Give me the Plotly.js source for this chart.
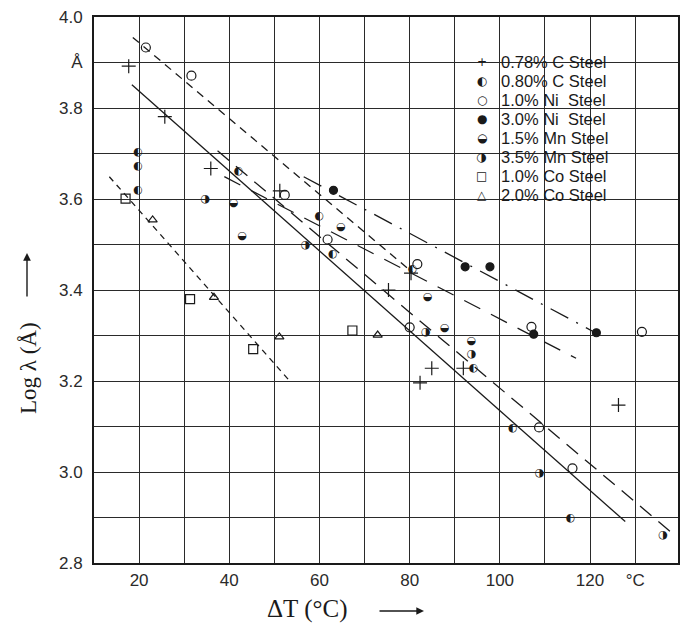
<!DOCTYPE html>
<html>
<head>
<meta charset="utf-8">
<script src="https://cdn.plot.ly/plotly-3.0.1.min.js"></script>
<style>
  html, body { margin: 0; padding: 0; background: #fff; }
  #chart { width: 694px; height: 628px; }
</style>
</head>
<body>
<div id="chart"></div>
<script>
// Pearlite interlamellar spacing (log λ, Å) against undercooling ΔT for several steels

// --- measured points, one pair of arrays per steel ---
const c078X = [17.7, 25.7, 35.9, 51.2, 75.3, 80.3, 82.3, 84.9, 91.9, 126.3];
const c078Y = [3.892, 3.781, 3.667, 3.618, 3.400, 3.437, 3.196, 3.228, 3.228, 3.147];

const c080X = [19.7, 19.7, 19.7, 42.0, 59.9, 62.9, 80.6, 94.1, 102.8, 115.6];
const c080Y = [3.703, 3.673, 3.620, 3.660, 3.563, 3.479, 3.446, 3.229, 3.096, 2.898];

const ni10X = [21.5, 31.6, 52.3, 61.8, 81.7, 80.0, 107.0, 108.7, 116.1, 131.5];
const ni10Y = [3.933, 3.871, 3.609, 3.511, 3.457, 3.318, 3.319, 3.098, 3.008, 3.308];

const ni30X = [63.1, 92.3, 97.8, 107.5, 121.4];
const ni30Y = [3.619, 3.451, 3.451, 3.303, 3.306];

const mn15X = [41.0, 42.9, 64.8, 84.0, 87.8, 93.7];
const mn15Y = [3.590, 3.519, 3.538, 3.385, 3.316, 3.288];

const mn35X = [34.7, 56.9, 83.6, 93.7, 108.8, 136.2];
const mn35Y = [3.599, 3.499, 3.308, 3.258, 2.998, 2.860];

const co10X = [17.0, 31.3, 45.3, 67.3];
const co10Y = [3.601, 3.380, 3.270, 3.311];

const co20X = [23.0, 36.6, 51.1, 72.9];
const co20Y = [3.554, 3.384, 3.297, 3.301];

// --- fitted trend lines (end points) ---
const fitSolidX = [18.4, 127.8];
const fitSolidY = [3.851, 2.891];
const fitNiX = [18.6, 80.6];
const fitNiY = [3.955, 3.439];
const fitLongX = [37.4, 138.3];
const fitLongY = [3.706, 2.865];
const fitDashDotX = [56.5, 121.4];
const fitDashDotY = [3.649, 3.305];
const fitMnX = [38.9, 116.9];
const fitMnY = [3.649, 3.250];
const fitCoX = [13.4, 53.4];
const fitCoY = [3.649, 3.200];

// --- legend rows ---
const legendNames = ['0.78% C Steel', '0.80% C Steel', '1.0% Ni  Steel', '3.0% Ni  Steel',
                     '1.5% Mn Steel', '3.5% Mn Steel', '1.0% Co Steel', '2.0% Co Steel'];
const legendGlyphs = ['+', '◐', '○', '●', '◒', '◑', '□', '△'];

// --- axis ticks ---
const xTickVals = [20, 30, 40, 50, 60, 70, 80, 90, 100, 110, 120, 130, 140];
const xTickText = ['20', '', '40', '', '60', '', '80', '', '100', '', '120', '°C', '140'];
const yTickVals = [2.8, 2.9, 3.0, 3.1, 3.2, 3.3, 3.4, 3.5, 3.6, 3.7, 3.8, 3.9, 4.0];
const yTickText = ['2.8', '', '3.0', '', '3.2', '', '3.4', '', '3.6', '', '3.8', 'Å', '4.0'];

const ink = '#1a1a1a';

function fitLine(x, y, dash) {
  return { x: x, y: y, type: 'scatter', mode: 'lines', hoverinfo: 'skip',
           line: { color: ink, width: 1.3, dash: dash } };
}
function symbolTrace(x, y, symbol, size) {
  return { x: x, y: y, type: 'scatter', mode: 'markers', cliponaxis: false,
           marker: { symbol: symbol, size: size, color: ink, line: { color: ink, width: 1.2 } } };
}
// half-filled circles are drawn as geometric-shape characters
function glyphTrace(x, y, glyph) {
  return { x: x, y: y, type: 'scatter', mode: 'text', text: x.map(() => glyph),
           textposition: 'middle center',
           textfont: { family: 'DejaVu Sans', size: 11, color: ink } };
}

const traces = [
  fitLine(fitSolidX, fitSolidY, 'solid'),
  fitLine(fitNiX, fitNiY, '8px,6px'),
  fitLine(fitLongX, fitLongY, '15px,9px'),
  fitLine(fitDashDotX, fitDashDotY, '20px,9px,2px,9px'),
  fitLine(fitMnX, fitMnY, '18px,12px'),
  fitLine(fitCoX, fitCoY, '6px,5px'),
  symbolTrace(c078X, c078Y, 'cross-thin-open', 10),
  glyphTrace(c080X, c080Y, '◐'),
  symbolTrace(ni10X, ni10Y, 'circle-open', 9),
  symbolTrace(ni30X, ni30Y, 'circle', 8),
  glyphTrace(mn15X, mn15Y, '◒'),
  glyphTrace(mn35X, mn35Y, '◑'),
  symbolTrace(co10X, co10Y, 'square-open', 9),
  symbolTrace(co20X, co20Y, 'triangle-up-open', 8)
];

// plot area in pixels: left 94, right 678, top 17, bottom 563
const legendTopPx = 61.5;
const legendRowPx = 19.1;
const toPaperY = py => (563 - py) / 546;
const toPaperX = px => (px - 94) / 584;

const annotations = [];
legendNames.forEach((name, i) => {
  const py = legendTopPx + i * legendRowPx;
  annotations.push({ xref: 'paper', yref: 'paper', x: toPaperX(481.7), y: toPaperY(py),
    text: legendGlyphs[i], showarrow: false, xanchor: 'center', yanchor: 'middle',
    font: { family: 'DejaVu Sans', size: 12, color: ink } });
  annotations.push({ xref: 'paper', yref: 'paper', x: toPaperX(499), y: toPaperY(py),
    text: name.replace(/  /g, '&nbsp; '), showarrow: false, xanchor: 'left', yanchor: 'middle',
    font: { family: 'Liberation Sans', size: 16.5, color: ink } });
});

// axis captions with their arrows
annotations.push({ xref: 'paper', yref: 'paper', x: toPaperX(307), y: toPaperY(609),
  text: 'ΔT (°C)', showarrow: false, xanchor: 'center', yanchor: 'middle',
  font: { family: 'Liberation Serif', size: 25, color: ink } });
annotations.push({ xref: 'paper', yref: 'paper', x: toPaperX(424), y: toPaperY(611),
  ax: -46, ay: 0, text: '', showarrow: true, arrowhead: 2, arrowsize: 1.1, arrowwidth: 1.4,
  arrowcolor: ink });
annotations.push({ xref: 'paper', yref: 'paper', x: toPaperX(29), y: toPaperY(368),
  text: 'Log λ (Å)', textangle: -90, showarrow: false, xanchor: 'center', yanchor: 'middle',
  font: { family: 'Liberation Serif', size: 23, color: ink } });
annotations.push({ xref: 'paper', yref: 'paper', x: toPaperX(27), y: toPaperY(253),
  ax: 0, ay: 45, text: '', showarrow: true, arrowhead: 2, arrowsize: 1.1, arrowwidth: 1.4,
  arrowcolor: ink });

const axisCommon = {
  showline: true, mirror: true, linecolor: ink, linewidth: 2,
  showgrid: true, gridcolor: '#2a2a2a', gridwidth: 1,
  zeroline: false, ticks: '', fixedrange: true,
  tickfont: { family: 'Liberation Sans', size: 17, color: '#2a2a2a' }
};

const layout = {
  width: 694, height: 628,
  margin: { l: 94, r: 16, t: 17, b: 65 },
  paper_bgcolor: '#ffffff', plot_bgcolor: '#ffffff',
  showlegend: false,
  xaxis: Object.assign({}, axisCommon, {
    range: [10, 139.5], tickmode: 'array', tickvals: xTickVals, ticktext: xTickText,
    ticklabelstandoff: 1
  }),
  yaxis: Object.assign({}, axisCommon, {
    range: [2.8, 4.0], tickmode: 'array', tickvals: yTickVals, ticktext: yTickText,
    ticklabelstandoff: 6
  }),
  annotations: annotations
};

Plotly.newPlot('chart', traces, layout, { staticPlot: true, displayModeBar: false });
</script>
</body>
</html>
